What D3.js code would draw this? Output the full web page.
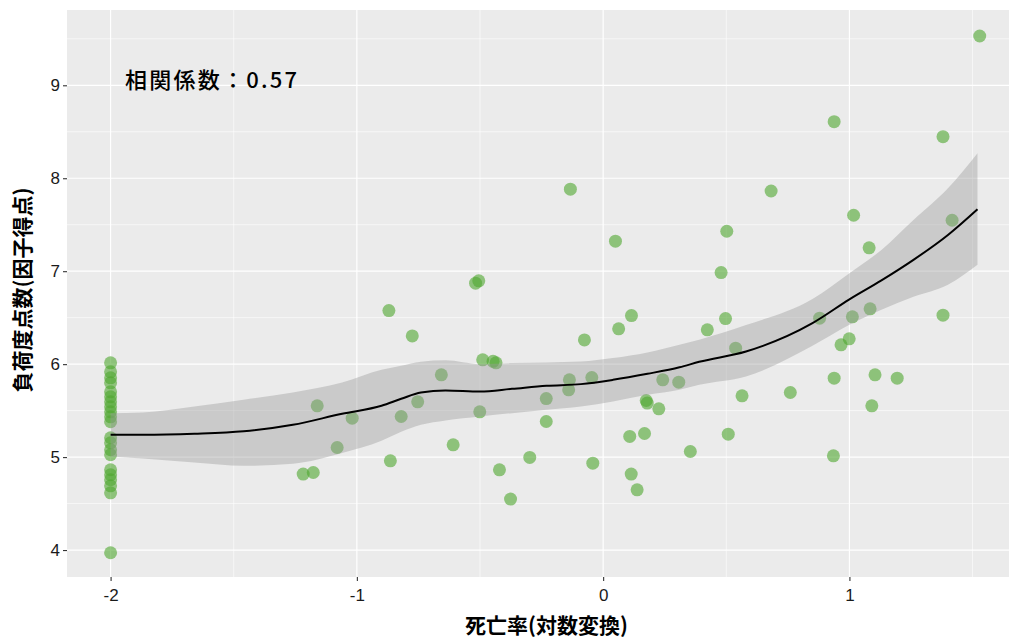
<!DOCTYPE html>
<html>
<head>
  <meta charset="utf-8">
  <title>相関係数</title>
  <script src="https://d3js.org/d3.v7.min.js"></script>
  <style>
    body { margin: 0; background: #fff; }
    text { font-family: "Noto Sans CJK JP", "Noto Sans", sans-serif; }
    .tick-label { font-family: "Liberation Sans", Arial, sans-serif; }
  </style>
</head>
<body>
  <script>
    // 散布図の点 (死亡率(対数変換), 負荷度点数)
    var ptX = [
      -2, -2, -2, -2, -2, -2, -2, -2, -2, -2, -2, -2, -2, -2, -2, -2, -2, -2, -2, -2, -2,
      -0.870, -1.161, -1.019, -1.080, -0.864, -1.218, -1.177, -0.133, 0.050, -0.518,
      -0.505, -0.775, 0.115, 0.063, -0.076, -0.489, -0.447, -0.435, -0.657, -0.137,
      -0.140, -0.046, 0.242, 0.307, -0.753, -0.820, -0.501, -0.231, -0.231, 0.175,
      0.179, 0.226, -0.609, 0.108, 0.168, 0.354, -0.298, -0.421, -0.042, 0.114,
      0.138, -0.376, 1.529, 0.938, 1.380, 0.682, 1.017, 0.502, 1.080, 0.479,
      1.417, 1.380, 0.497, 0.423, 0.538, 0.879, 1.012, 1.084, 0.999, 0.966,
      0.564, 0.760, 0.938, 1.104, 1.194, 1.091, 0.508, 0.935
    ];
    var ptY = [
      6.014, 5.917, 5.853, 5.799, 5.702, 5.648, 5.595, 5.541, 5.487, 5.433, 5.380,
      5.208, 5.154, 5.079, 5.025, 4.864, 4.810, 4.756, 4.691, 4.616, 3.971,
      6.576, 5.552, 5.419, 5.103, 4.960, 4.817, 4.834, 7.882, 7.323, 6.871,
      6.896, 6.304, 6.523, 6.380, 6.261, 6.046, 6.030, 6.014, 5.885, 5.831,
      5.724, 5.856, 5.831, 5.806, 5.595, 5.437, 5.487, 5.630, 5.383, 5.609,
      5.581, 5.519, 5.132, 5.222, 5.254, 5.060, 4.996, 4.863, 4.935, 4.817,
      4.648, 4.548, 9.530, 8.609, 8.447, 7.863, 7.602, 7.430, 7.251, 6.985,
      7.548, 6.527, 6.490, 6.369, 6.172, 6.495, 6.509, 6.595, 6.272, 6.208,
      5.659, 5.695, 5.849, 5.885, 5.849, 5.552, 5.247, 5.014
    ];

    // 平滑化曲線と信頼区間
    var smX = [-2, -1.87, -1.66, -1.46, -1.26, -1.06, -0.9, -0.82, -0.74, -0.64, -0.5, -0.37,
      -0.23, -0.09, 0.04, 0.18, 0.31, 0.39, 0.58, 0.85, 1.0, 1.13, 1.26, 1.4, 1.52];
    var smY = [5.240, 5.240, 5.251, 5.277, 5.347, 5.466, 5.552, 5.627, 5.695, 5.716, 5.705, 5.734,
      5.767, 5.785, 5.831, 5.896, 5.966, 6.025, 6.136, 6.441, 6.697, 6.901, 7.122, 7.390, 7.667];
    var smHi = [5.473, 5.480, 5.544, 5.616, 5.695, 5.802, 5.939, 5.982, 6.025, 6.041, 6.000, 6.011,
      6.019, 6.028, 6.065, 6.125, 6.208, 6.262, 6.420, 6.700, 6.978, 7.229, 7.551, 7.892, 8.269];
    var smLo = [5.006, 4.985, 4.942, 4.906, 4.928, 5.043, 5.175, 5.272, 5.347, 5.394, 5.437, 5.473,
      5.509, 5.544, 5.598, 5.670, 5.724, 5.777, 5.867, 6.197, 6.423, 6.584, 6.724, 6.853, 7.068];

    var xTicks = [-2, -1, 0, 1];
    var xMinor = [-1.5, -0.5, 0.5, 1.5];
    var yTicks = [4, 5, 6, 7, 8, 9];
    var yMinor = [4.5, 5.5, 6.5, 7.5, 8.5, 9.5];
    var corrLabel = '相関係数：0.57';

    var W = 1009, H = 642;
    var panel = { left: 67, top: 10, right: 1026, bottom: 577 };

    var svg = d3.select('body').append('svg')
      .attr('width', W)
      .attr('height', H);

    var x = d3.scaleLinear().domain([-2.177, 1.717]).range([panel.left, panel.right]);
    var y = d3.scaleLinear().domain([3.71, 9.81]).range([panel.bottom, panel.top]);

    svg.append('rect')
      .attr('x', panel.left).attr('y', panel.top)
      .attr('width', panel.right - panel.left)
      .attr('height', panel.bottom - panel.top)
      .attr('fill', '#ebebeb');

    var grid = svg.append('g');
    grid.selectAll('.vmin').data(xMinor).enter().append('line')
      .attr('x1', d => x(d)).attr('x2', d => x(d))
      .attr('y1', panel.top).attr('y2', panel.bottom)
      .attr('stroke', '#fff').attr('stroke-width', 0.6);
    grid.selectAll('.hmin').data(yMinor).enter().append('line')
      .attr('y1', d => y(d)).attr('y2', d => y(d))
      .attr('x1', panel.left).attr('x2', panel.right)
      .attr('stroke', '#fff').attr('stroke-width', 0.6);
    grid.selectAll('.vmaj').data(xTicks).enter().append('line')
      .attr('x1', d => x(d)).attr('x2', d => x(d))
      .attr('y1', panel.top).attr('y2', panel.bottom)
      .attr('stroke', '#fff').attr('stroke-width', 1.2);
    grid.selectAll('.hmaj').data(yTicks).enter().append('line')
      .attr('y1', d => y(d)).attr('y2', d => y(d))
      .attr('x1', panel.left).attr('x2', panel.right)
      .attr('stroke', '#fff').attr('stroke-width', 1.2);

    // points
    svg.append('g').selectAll('circle')
      .data(d3.range(ptX.length))
      .enter().append('circle')
      .attr('cx', i => x(ptX[i]))
      .attr('cy', i => y(ptY[i]))
      .attr('r', 6.5)
      .attr('fill', '#4fa62e')
      .attr('fill-opacity', 0.6);

    var idx = d3.range(smX.length);
    var band = d3.area()
      .x(i => x(smX[i]))
      .y0(i => y(smLo[i]))
      .y1(i => y(smHi[i]))
      .curve(d3.curveMonotoneX);
    svg.append('path')
      .datum(idx)
      .attr('d', band)
      .attr('fill', '#999999')
      .attr('fill-opacity', 0.4);

    var line = d3.line()
      .x(i => x(smX[i]))
      .y(i => y(smY[i]))
      .curve(d3.curveMonotoneX);
    svg.append('path')
      .datum(idx)
      .attr('d', line)
      .attr('fill', 'none')
      .attr('stroke', '#000')
      .attr('stroke-width', 2);

    // annotation
    svg.append('text')
      .attr('x', 125)
      .attr('y', y(9) + 3)
      .attr('font-size', 22)
      .attr('font-weight', 500)
      .attr('textLength', 172)
      .attr('lengthAdjust', 'spacing')
      .attr('fill', '#000')
      .text(corrLabel);

    // axes
    var xAxis = d3.axisBottom(x).tickValues(xTicks).tickSize(4).tickPadding(8)
      .tickFormat(d => String(d));
    var gx = svg.append('g')
      .attr('transform', 'translate(0,' + panel.bottom + ')')
      .call(xAxis);
    var yAxis = d3.axisLeft(y).tickValues(yTicks).tickSize(4).tickPadding(3)
      .tickFormat(d => String(d));
    var gy = svg.append('g')
      .attr('transform', 'translate(' + panel.left + ',0)')
      .call(yAxis);

    [gx, gy].forEach(function(g) {
      g.select('.domain').remove();
      g.selectAll('.tick line').attr('stroke', '#333').attr('stroke-width', 1.1);
      g.selectAll('.tick text')
        .attr('class', 'tick-label')
        .attr('font-size', 17)
        .attr('fill', '#1a1a1a');
    });

    svg.append('text')
      .attr('x', (panel.left + panel.right) / 2)
      .attr('y', 633)
      .attr('text-anchor', 'middle')
      .attr('font-size', 21)
      .attr('font-weight', 'bold')
      .text('死亡率(対数変換)');

    svg.append('text')
      .attr('transform', 'translate(30,' + 290 + ') rotate(-90)')
      .attr('text-anchor', 'middle')
      .attr('font-size', 21)
      .attr('font-weight', 'bold')
      .text('負荷度点数(因子得点)');
  </script>
</body>
</html>
